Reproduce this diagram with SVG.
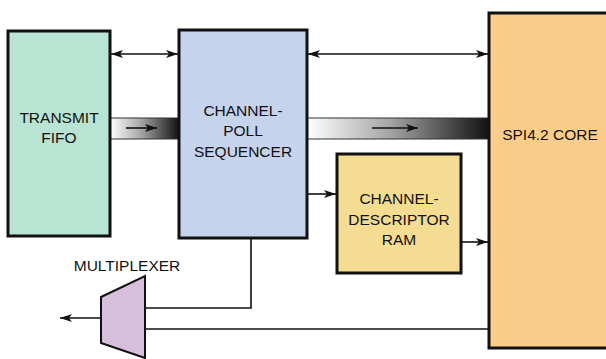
<svg xmlns="http://www.w3.org/2000/svg" width="606" height="359" viewBox="0 0 606 359">
<style>
.box{stroke:#111;stroke-width:3}
.t{font-family:"Liberation Sans",Arial,sans-serif;font-size:15.5px;fill:#111;text-anchor:middle}
.c{fill:none;stroke:#111;stroke-width:1.6}
.bus{stroke:#333;stroke-width:1}
</style>
<defs>
<marker id="ah" viewBox="0 0 12 8" refX="12" refY="4" markerWidth="12" markerHeight="8" markerUnits="userSpaceOnUse" orient="auto-start-reverse">
<path d="M0,0 L12,4 L0,8 L3,4 Z" fill="#111"/>
</marker>
<linearGradient id="g" x1="0" x2="1" y1="0" y2="0">
<stop offset="0" stop-color="#ffffff"/>
<stop offset="0.45" stop-color="#a6a6a6"/>
<stop offset="1" stop-color="#111111"/>
</linearGradient>
</defs>
<g id="connectors">
<rect class="bus" x="110" y="118" width="69" height="21" fill="url(#g)"/>
<rect class="bus" x="307" y="118" width="182" height="21" fill="url(#g)"/>
<line class="c" x1="126" y1="128" x2="157" y2="128" marker-end="url(#ah)"/>
<line class="c" x1="372" y1="128" x2="418" y2="128" marker-end="url(#ah)"/>
<line class="c" x1="111" y1="54" x2="178" y2="54" marker-start="url(#ah)" marker-end="url(#ah)"/>
<line class="c" x1="308" y1="54" x2="488" y2="54" marker-start="url(#ah)" marker-end="url(#ah)"/>
<line class="c" x1="308" y1="194" x2="336" y2="194" marker-end="url(#ah)"/>
<line class="c" x1="462" y1="242" x2="488" y2="242" marker-end="url(#ah)"/>
<polyline class="c" points="251,239 251,308 145,308"/>
<line class="c" x1="489" y1="329" x2="145" y2="329"/>
<line class="c" x1="101" y1="318" x2="60" y2="318" marker-end="url(#ah)"/>
</g>
<g id="transmit-fifo">
<rect class="box" x="8" y="31" width="102" height="205" fill="#b9e3d2"/>
<text class="t" x="59" y="123">TRANSMIT</text>
<text class="t" x="59" y="143">FIFO</text>
</g>
<g id="sequencer">
<rect class="box" x="179" y="30" width="128" height="208" fill="#c5d3ec"/>
<text class="t" x="243" y="116">CHANNEL-</text>
<text class="t" x="243" y="136">POLL</text>
<text class="t" x="243" y="157">SEQUENCER</text>
</g>
<g id="descriptor-ram">
<rect class="box" x="337" y="154" width="124" height="119" fill="#f5dc93"/>
<text class="t" x="399" y="204">CHANNEL-</text>
<text class="t" x="399" y="225">DESCRIPTOR</text>
<text class="t" x="399" y="245">RAM</text>
</g>
<g id="spi-core">
<rect class="box" x="489" y="13" width="130" height="335" fill="#fccd8a"/>
<text class="t" x="550" y="140">SPI4.2 CORE</text>
</g>
<g id="multiplexer">
<polygon points="101,297 145,276 145,358 101,343" fill="#d5bfdd" stroke="#111" stroke-width="2"/>
<text class="t" x="127" y="271">MULTIPLEXER</text>
</g>
</svg>
